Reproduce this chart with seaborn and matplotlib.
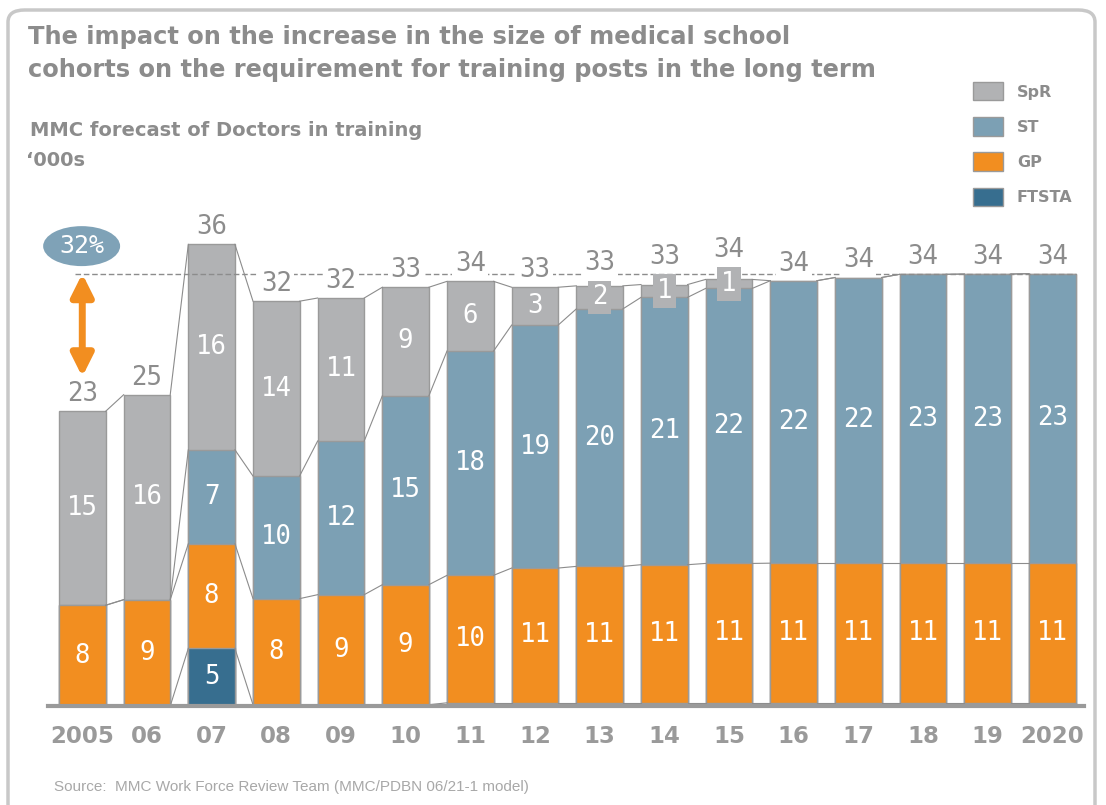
import numpy as np
import pandas as pd
import matplotlib.pyplot as plt
import seaborn as sns
from matplotlib.patches import Ellipse, FancyBboxPatch, Patch


YEARS = ["2005", "06", "07", "08", "09", "10", "11", "12",
         "13", "14", "15", "16", "17", "18", "19", "2020"]

# segment heights ('000s)
FTSTA = [0, 0, 4.5, 0.1, 0.1, 0.1, 0.25, 0.25, 0.25, 0.25, 0.25, 0.25, 0.25, 0.25, 0.25, 0.25]
GP = [7.86, 8.3, 8.17, 8.28, 8.59, 9.37, 9.95, 10.52, 10.65, 10.78, 10.88, 10.9, 10.9, 10.9, 10.9, 10.9]
ST = [0, 0, 7.33, 9.57, 12.0, 14.75, 17.51, 18.97, 20.1, 20.87, 21.47, 22.05, 22.3, 22.55, 22.57, 22.6]
SPR = [15.14, 16.0, 16.04, 13.65, 11.16, 8.47, 5.44, 2.95, 1.8, 1.0, 0.7, 0, 0, 0, 0, 0]

# numbers as printed on the chart
FTSTA_LBL = [None, None, 5, None, None, None, None, None, None, None, None, None, None, None, None, None]
GP_LBL = [8, 9, 8, 8, 9, 9, 10, 11, 11, 11, 11, 11, 11, 11, 11, 11]
ST_LBL = [None, None, 7, 10, 12, 15, 18, 19, 20, 21, 22, 22, 22, 23, 23, 23]
SPR_LBL = [15, 16, 16, 14, 11, 9, 6, 3, 2, 1, 1, None, None, None, None, None]
TOTAL_LBL = [23, 25, 36, 32, 32, 33, 34, 33, 33, 33, 34, 34, 34, 34, 34, 34]

GROWTH_LABEL = "32%"

C_SPR = "#b1b2b4"
C_ST = "#7ca0b4"
C_GP = "#f28e20"
C_FTSTA = "#376e8f"
C_EDGE = "#9a9a9a"
C_TEXT = "#8c8c8c"
BAR_W = 0.72

df = pd.DataFrame({"year": YEARS, "ftsta": FTSTA, "gp": GP, "st": ST, "spr": SPR})
df["c_ftsta"] = df["ftsta"]
df["c_gp"] = df["c_ftsta"] + df["gp"]
df["c_st"] = df["c_gp"] + df["st"]
df["c_total"] = df["c_st"] + df["spr"]

fig = plt.figure(figsize=(11.06, 8.05), dpi=100)
ax = fig.add_axes([0.0434, 0.12298, 0.93671, 0.63652])

# stacked look: draw cumulative bars from the top down
for col, color in [("c_total", C_SPR), ("c_st", C_ST), ("c_gp", C_GP), ("c_ftsta", C_FTSTA)]:
    sns.barplot(data=df, x="year", y=col, order=YEARS, color=color, saturation=1,
                width=BAR_W, edgecolor=C_EDGE, linewidth=1, errorbar=None, ax=ax, zorder=2)

# series lines between neighbouring bars
x = np.arange(len(YEARS))
for col in ["c_ftsta", "c_gp", "c_st", "c_total"]:
    lev = df[col].values
    for i in range(len(YEARS) - 1):
        ax.plot([x[i] + BAR_W / 2, x[i + 1] - BAR_W / 2], [lev[i], lev[i + 1]],
                color="#8c8c8c", lw=0.8, zorder=3)

# reference line at the long-term level
ref = df["c_total"].values[-1]
ax.plot([-0.11, x[-1] + BAR_W / 2], [ref, ref], color="#8c8c8c", lw=1,
        dashes=(4, 2), zorder=4)

num_font = dict(family="DejaVu Sans Mono", fontsize=18.5)

def seg_labels(labels, base, height, box=None):
    for i, lbl in enumerate(labels):
        if lbl is None:
            continue
        y = base[i] + height[i] / 2
        kw = {}
        if box:
            kw["bbox"] = dict(boxstyle="square,pad=0.15", fc=box, ec="none")
        ax.text(x[i], y, str(lbl), ha="center", va="center", color="white",
                zorder=6, **num_font, **kw)

seg_labels(FTSTA_LBL, np.zeros(len(YEARS)), df["ftsta"].values)
seg_labels(GP_LBL, df["c_ftsta"].values, df["gp"].values)
seg_labels(ST_LBL, df["c_gp"].values, df["st"].values)
seg_labels(SPR_LBL, df["c_st"].values, df["spr"].values, box=C_SPR)

# totals sit above the bar, pushed up where a small SpR box sticks out
spr_mid = df["c_st"].values + df["spr"].values / 2
for i, lbl in enumerate(TOTAL_LBL):
    top = df["c_total"].values[i]
    y = top + 1.33
    if SPR_LBL[i] is not None:
        y = max(y, spr_mid[i] + 2.65)
    ax.text(x[i], y, str(lbl), ha="center", va="center", color=C_TEXT,
            bbox=dict(boxstyle="square,pad=0.1", fc="white", ec="none"),
            zorder=6, **num_font)

# growth marker
ax.add_patch(Ellipse((-0.01, 35.9), 1.19, 3.12, fc="#7fa2b7", ec="none",
                     clip_on=False, zorder=6))
ax.text(-0.01, 35.9, GROWTH_LABEL, ha="center", va="center", color="white",
        family="DejaVu Sans Mono", fontsize=18, zorder=7)
ax.annotate("", xy=(0, ref), xytext=(0, 25.7),
            arrowprops=dict(arrowstyle="<|-|>,head_length=0.6,head_width=0.3",
                            mutation_scale=22, color=C_GP, lw=5,
                            shrinkA=0, shrinkB=0), zorder=6)

ax.set_xlim(-0.53, 15.49)
ax.set_ylim(0, 40)
ax.set_xlabel("")
ax.set_ylabel("")
ax.set_yticks([])
for side in ["top", "right", "left"]:
    ax.spines[side].set_visible(False)
ax.spines["bottom"].set_color(C_EDGE)
ax.spines["bottom"].set_linewidth(3)
ax.spines["bottom"].set_zorder(5)
ax.tick_params(axis="x", length=0, pad=14, labelsize=16.5, labelcolor="#9a9a9a")
for t in ax.get_xticklabels():
    t.set_fontweight("bold")
    t.set_family("DejaVu Sans")

# texts
title_kw = dict(fontsize=17.4, fontweight="bold", color=C_TEXT, family="DejaVu Sans", va="center")
fig.text(28 / 1106, 1 - 37 / 805, "The impact on the increase in the size of medical school", **title_kw)
fig.text(28 / 1106, 1 - 70 / 805, "cohorts on the requirement for training posts in the long term", **title_kw)
sub_kw = dict(fontsize=14, fontweight="bold", color=C_TEXT, family="DejaVu Sans", va="center")
fig.text(30 / 1106, 1 - 130 / 805, "MMC forecast of Doctors in training", **sub_kw)
fig.text(26 / 1106, 1 - 160 / 805, "\u2018000s", **sub_kw)
fig.text(54 / 1106, 1 - 787 / 805, "Source:  MMC Work Force Review Team (MMC/PDBN 06/21-1 model)",
         fontsize=11, color="#a8a8a8", family="Liberation Sans", va="center")

handles = [Patch(fc=c, ec=C_EDGE, lw=1) for c in [C_SPR, C_ST, C_GP, C_FTSTA]]
fig.legend(handles, ["SpR", "ST", "GP", "FTSTA"], loc="upper left",
           bbox_to_anchor=(973 / 1106, 1 - 82 / 805), frameon=False, borderpad=0,
           borderaxespad=0, handlelength=1.9, handleheight=1.4, handletextpad=0.85,
           labelspacing=1.05, labelcolor=C_TEXT,
           prop=dict(family="DejaVu Sans", weight="bold", size=11.5))

# rounded panel frame
fig.patches.append(FancyBboxPatch((8 / 1106, -0.05), 1087 / 1106, 1.05 - 10 / 805,
                                  boxstyle="round,pad=0,rounding_size=0.015",
                                  transform=fig.transFigure, fc="none", ec="#c8c8c8",
                                  lw=2.5, zorder=0))

fig.savefig("out.png", dpi=100)
